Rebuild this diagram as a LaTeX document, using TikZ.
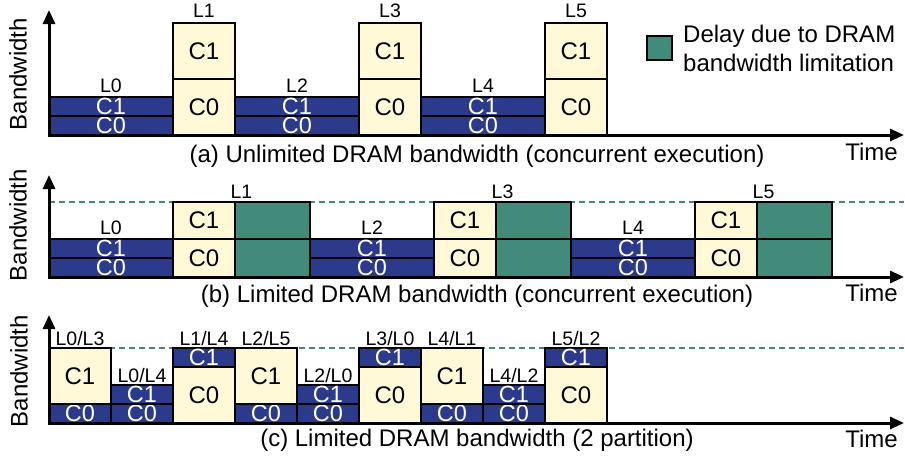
\documentclass[tikz,border=0pt]{standalone}
\usepackage{fontspec}
\setmainfont{Liberation Sans}
\usetikzlibrary{arrows.meta, positioning, calc}

\definecolor{dramblue}{HTML}{2B3A8A}
\definecolor{bufyellow}{HTML}{FFF9D7}
\definecolor{delaygreen}{HTML}{428A79}

\tikzset{
  band/.style={draw=black, line width=1.5pt, fill=dramblue, text=white, inner sep=0pt, outer sep=0pt, minimum height=19pt, font=\fontsize{23.5}{23.5}\selectfont},
  buf/.style={draw=black, line width=1.5pt, fill=bufyellow, inner sep=0pt, outer sep=0pt, minimum width=62pt, font=\fontsize{24}{24}\selectfont},
  delay/.style={draw=black, line width=1.5pt, fill=delaygreen, inner sep=0pt, outer sep=0pt},
  layer/.style={inner sep=0pt, font=\fontsize{19.5}{19.5}\selectfont},
  big/.style={inner sep=0pt, font=\fontsize{24}{29}\selectfont},
  axis/.style={line width=3pt, {Triangle[length=14pt, width=12pt]}-{Triangle[length=14pt, width=12pt]}},
  limit/.style={delaygreen, line width=1.3pt, dash pattern=on 6pt off 4pt}
}

\begin{document}
\begin{tikzpicture}[x=1pt, y=-1pt]
  \useasboundingbox (0,0) rectangle (905,459);

  \coordinate (a-origin) at (49,135);
  \coordinate (a-ytop) at (49,10);
  \coordinate (a-xend) at (904,135);
  \node[band, minimum width=124pt] (a-l0-c0) at (111,125.5) {C0};
  \node[band, minimum width=124pt] (a-l0-c1) at (111,106.5) {C1};
  \node[layer, above=4pt of a-l0-c1] (a-l0) {L0};
  \node[buf, minimum height=56pt] (a-l1-c0) at (204,107) {C0};
  \node[buf, minimum height=56pt] (a-l1-c1) at (204,51) {C1};
  \node[layer, above=5pt of a-l1-c1] (a-l1) {L1};
  \node[band, minimum width=124pt] (a-l2-c0) at (297,125.5) {C0};
  \node[band, minimum width=124pt] (a-l2-c1) at (297,106.5) {C1};
  \node[layer, above=4pt of a-l2-c1] (a-l2) {L2};
  \node[buf, minimum height=56pt] (a-l3-c0) at (390,107) {C0};
  \node[buf, minimum height=56pt] (a-l3-c1) at (390,51) {C1};
  \node[layer, above=5pt of a-l3-c1] (a-l3) {L3};
  \node[band, minimum width=124pt] (a-l4-c0) at (483,125.5) {C0};
  \node[band, minimum width=124pt] (a-l4-c1) at (483,106.5) {C1};
  \node[layer, above=4pt of a-l4-c1] (a-l4) {L4};
  \node[buf, minimum height=56pt] (a-l5-c0) at (576,107) {C0};
  \node[buf, minimum height=56pt] (a-l5-c1) at (576,51) {C1};
  \node[layer, above=5pt of a-l5-c1] (a-l5) {L5};
  \draw[axis] (a-ytop) -- (a-origin) -- (a-xend);
  \node[big, rotate=90] (a-bw) at (18,74) {Bandwidth};
  \node[big, below left=8pt and 6pt of a-xend] (a-time) {Time};
  \node[big] (a-cap) at (477,156) {(a) Unlimited DRAM bandwidth (concurrent execution)};
  \node[delay, minimum width=25pt, minimum height=24pt] (key) at (659.5,48) {};
  \node[big, align=left, right=11pt of key] (key-text) {Delay due to DRAM\\bandwidth limitation};

  \coordinate (b-origin) at (49,277);
  \coordinate (b-ytop) at (49,175);
  \coordinate (b-xend) at (904,277);
  \coordinate (b-lim) at (49,202);
  \draw[limit] (b-lim) -- (b-lim -| b-xend);
  \node[band, minimum width=124pt] (b-l0-c0) at (111,267.5) {C0};
  \node[band, minimum width=124pt] (b-l0-c1) at (111,248.5) {C1};
  \node[layer, above=4pt of b-l0-c1] (b-l0) {L0};
  \node[buf, minimum height=38pt] (b-l1-c0) at (204,258) {C0};
  \node[buf, minimum height=37pt] (b-l1-c1) at (204,220.5) {C1};
  \node[delay, minimum width=75pt, minimum height=38pt] (b-l1-d0) at (272.5,258) {};
  \node[delay, minimum width=75pt, minimum height=37pt] (b-l1-d1) at (272.5,220.5) {};
  \node[layer, anchor=south, yshift=3pt] (b-l1) at ($(b-l1-c1.north west)!0.5!(b-l1-d1.north east)$) {L1};
  \node[band, minimum width=124pt] (b-l2-c0) at (372,267.5) {C0};
  \node[band, minimum width=124pt] (b-l2-c1) at (372,248.5) {C1};
  \node[layer, above=4pt of b-l2-c1] (b-l2) {L2};
  \node[buf, minimum height=38pt] (b-l3-c0) at (465,258) {C0};
  \node[buf, minimum height=37pt] (b-l3-c1) at (465,220.5) {C1};
  \node[delay, minimum width=75pt, minimum height=38pt] (b-l3-d0) at (533.5,258) {};
  \node[delay, minimum width=75pt, minimum height=37pt] (b-l3-d1) at (533.5,220.5) {};
  \node[layer, anchor=south, yshift=3pt] (b-l3) at ($(b-l3-c1.north west)!0.5!(b-l3-d1.north east)$) {L3};
  \node[band, minimum width=124pt] (b-l4-c0) at (633,267.5) {C0};
  \node[band, minimum width=124pt] (b-l4-c1) at (633,248.5) {C1};
  \node[layer, above=4pt of b-l4-c1] (b-l4) {L4};
  \node[buf, minimum height=38pt] (b-l5-c0) at (726,258) {C0};
  \node[buf, minimum height=37pt] (b-l5-c1) at (726,220.5) {C1};
  \node[delay, minimum width=75pt, minimum height=38pt] (b-l5-d0) at (794.5,258) {};
  \node[delay, minimum width=75pt, minimum height=37pt] (b-l5-d1) at (794.5,220.5) {};
  \node[layer, anchor=south, yshift=3pt] (b-l5) at ($(b-l5-c1.north west)!0.5!(b-l5-d1.north east)$) {L5};
  \draw[axis] (b-ytop) -- (b-origin) -- (b-xend);
  \node[big, rotate=90] (b-bw) at (18,225) {Bandwidth};
  \node[big, below left=7pt and 6pt of b-xend] (b-time) {Time};
  \node[big] (b-cap) at (477,296) {(b) Limited DRAM bandwidth (concurrent execution)};

  \coordinate (c-origin) at (49,423);
  \coordinate (c-ytop) at (49,315);
  \coordinate (c-xend) at (904,423);
  \coordinate (c-lim) at (49,348);
  \draw[limit] (c-lim) -- (c-lim -| c-xend);
  \node[band, minimum width=62pt] (c-s1-c0) at (80,413.5) {C0};
  \node[buf, minimum height=56pt] (c-s1-c1) at (80,376) {C1};
  \node[layer, above=2pt of c-s1-c1] (c-s1) {L0/L3};
  \node[band, minimum width=62pt] (c-s2-c0) at (142,413.5) {C0};
  \node[band, minimum width=62pt] (c-s2-c1) at (142,394.5) {C1};
  \node[layer, above=2pt of c-s2-c1] (c-s2) {L0/L4};
  \node[buf, minimum height=56pt] (c-s3-c0) at (204,395) {C0};
  \node[band, minimum width=62pt] (c-s3-c1) at (204,357.5) {C1};
  \node[layer, above=2pt of c-s3-c1] (c-s3) {L1/L4};
  \node[band, minimum width=62pt] (c-s4-c0) at (266,413.5) {C0};
  \node[buf, minimum height=56pt] (c-s4-c1) at (266,376) {C1};
  \node[layer, above=2pt of c-s4-c1] (c-s4) {L2/L5};
  \node[band, minimum width=62pt] (c-s5-c0) at (328,413.5) {C0};
  \node[band, minimum width=62pt] (c-s5-c1) at (328,394.5) {C1};
  \node[layer, above=2pt of c-s5-c1] (c-s5) {L2/L0};
  \node[buf, minimum height=56pt] (c-s6-c0) at (390,395) {C0};
  \node[band, minimum width=62pt] (c-s6-c1) at (390,357.5) {C1};
  \node[layer, above=2pt of c-s6-c1] (c-s6) {L3/L0};
  \node[band, minimum width=62pt] (c-s7-c0) at (452,413.5) {C0};
  \node[buf, minimum height=56pt] (c-s7-c1) at (452,376) {C1};
  \node[layer, above=2pt of c-s7-c1] (c-s7) {L4/L1};
  \node[band, minimum width=62pt] (c-s8-c0) at (514,413.5) {C0};
  \node[band, minimum width=62pt] (c-s8-c1) at (514,394.5) {C1};
  \node[layer, above=2pt of c-s8-c1] (c-s8) {L4/L2};
  \node[buf, minimum height=56pt] (c-s9-c0) at (576,395) {C0};
  \node[band, minimum width=62pt] (c-s9-c1) at (576,357.5) {C1};
  \node[layer, above=2pt of c-s9-c1] (c-s9) {L5/L2};
  \draw[axis] (c-ytop) -- (c-origin) -- (c-xend);
  \node[big, rotate=90] (c-bw) at (19,371) {Bandwidth};
  \node[big, below left=7pt and 6pt of c-xend] (c-time) {Time};
  \node[big] (c-cap) at (477,440) {(c) Limited DRAM bandwidth (2 partition)};
\end{tikzpicture}
\end{document}
